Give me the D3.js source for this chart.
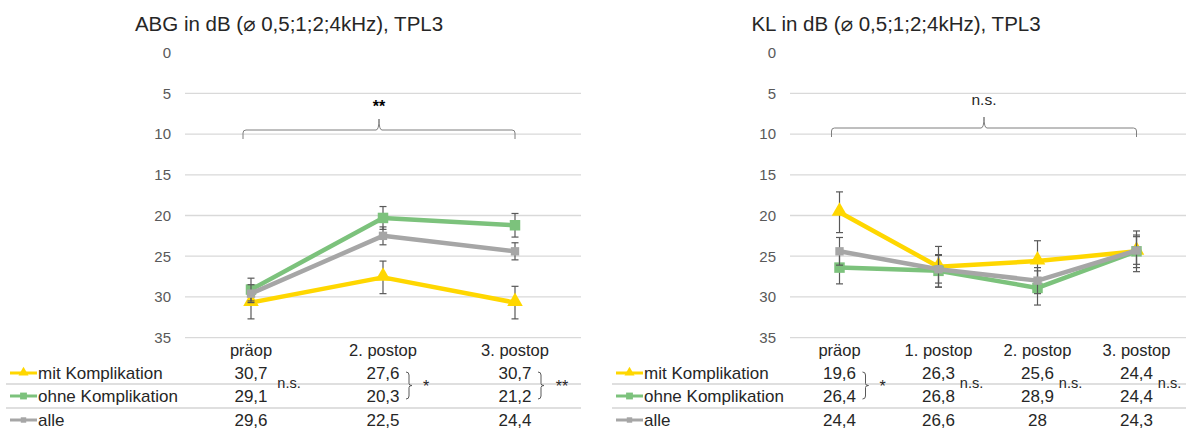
<!DOCTYPE html>
<html>
<head>
<meta charset="utf-8">
<script src="https://cdn.jsdelivr.net/npm/d3@7/dist/d3.min.js"></script>
<style>
  html, body { margin: 0; padding: 0; background: #fff; }
  svg { display: block; font-family: "Liberation Sans", Arial, "DejaVu Sans", sans-serif; }
</style>
</head>
<body>
<svg id="chart" width="1186" height="431"></svg>
<script>
// ---- data -------------------------------------------------------------
const yTicks = [0, 5, 10, 15, 20, 25, 30, 35];

const seriesNames = ["mit Komplikation", "ohne Komplikation", "alle"];

// Air-bone gap (ABG)
const abgCategories = ["präop", "2. postop", "3. postop"];
const abgMit  = [30.7, 27.6, 30.7];
const abgOhne = [29.1, 20.3, 21.2];
const abgAlle = [29.6, 22.5, 24.4];
const abgMitErr  = [2.0, 2.0, 2.0];
const abgOhneErr = [1.4, 1.4, 1.45];
const abgAlleErr = [1.1, 1.1, 1.05];
const abgTableSig = [
  { col: 0, kind: "text",  label: "n.s." },
  { col: 1, kind: "brace", label: "*" },
  { col: 2, kind: "brace", label: "**" }
];
const abgOverallSig = "**";

// Bone conduction (KL)
const klCategories = ["präop", "1. postop", "2. postop", "3. postop"];
const klMit  = [19.6, 26.3, 25.6, 24.4];
const klOhne = [26.4, 26.8, 28.9, 24.4];
const klAlle = [24.4, 26.6, 28, 24.3];
const klMitErr  = [2.5, 2.5, 2.5, 2.5];
const klOhneErr = [2.0, 2.0, 2.1, 2.0];
const klAlleErr = [1.7, 1.7, 1.6, 1.7];
const klTableSig = [
  { col: 0, kind: "brace", label: "*" },
  { col: 1, kind: "text",  label: "n.s." },
  { col: 2, kind: "text",  label: "n.s." },
  { col: 3, kind: "text",  label: "n.s." }
];
const klOverallSig = "n.s.";

// ---- styles -----------------------------------------------------------
const styles = [
  { color: "#FFD700", marker: "triangle" },
  { color: "#7CC27C", marker: "square" },
  { color: "#A6A6A6", marker: "squareSmall" }
];
const fmt = v => String(v).replace(".", ",");

const svg = d3.select("#chart");

function markerPath(type, small) {
  const s = small ? 0.65 : 1;
  if (type === "triangle") return d3.symbol().type(d3.symbolTriangle).size(105 * s * s)();
  if (type === "square") return d3.symbol().type(d3.symbolSquare).size(110 * s * s)();
  return d3.symbol().type(d3.symbolSquare).size(70 * s * s)();
}

function drawPanel(cfg) {
  const g = svg.append("g");
  const x = d3.scaleBand().domain(cfg.categories).range([cfg.left, cfg.right]);
  const y = d3.scaleLinear().domain([0, 35]).range([52.7, 337.6]);
  const cx = c => x(c) + x.bandwidth() / 2;

  // title
  g.append("text")
    .attr("x", cfg.titleX).attr("y", 31)
    .attr("text-anchor", "middle")
    .attr("font-size", 20.5).attr("fill", "#262626")
    .text(cfg.title);

  // gridlines (no line at 0)
  g.append("g").selectAll("line")
    .data(yTicks.filter(t => t > 0)).join("line")
    .attr("x1", cfg.left).attr("x2", cfg.right)
    .attr("y1", d => y(d)).attr("y2", d => y(d))
    .attr("stroke", "#D9D9D9").attr("stroke-width", 1.3);

  // y axis labels
  const yAxis = d3.axisLeft(y).tickValues(yTicks).tickSize(0).tickPadding(0);
  const ya = g.append("g").attr("transform", `translate(${cfg.left - 14},0)`).call(yAxis);
  ya.select(".domain").remove();
  ya.selectAll("text").attr("font-size", 15).attr("fill", "#595959")
    .attr("font-family", "Liberation Sans, Arial, sans-serif");

  // category labels
  const xAxis = d3.axisBottom(x).tickSize(0).tickPadding(0);
  const xa = g.append("g").attr("transform", `translate(0,${344})`).call(xAxis);
  xa.select(".domain").remove();
  xa.selectAll("text").attr("font-size", 16.5).attr("fill", "#262626")
    .attr("font-family", "Liberation Sans, Arial, sans-serif");

  // overall significance bracket above the plot
  const bx0 = cx(cfg.categories[0]) - 8, bx1 = cx(cfg.categories[cfg.categories.length - 1]);
  const bm = (bx0 + bx1) / 2;
  const by = cfg.bracketY, bt = by - 11, bb = by + 9;
  g.append("path")
    .attr("d", `M${bx0},${bb} L${bx0},${by + 3} Q${bx0},${by} ${bx0 + 3},${by} L${bm - 3},${by} Q${bm},${by} ${bm},${bt}` +
               ` Q${bm},${by} ${bm + 3},${by} L${bx1 - 3},${by} Q${bx1},${by} ${bx1},${by + 3} L${bx1},${bb}`)
    .attr("fill", "none").attr("stroke", "#7F7F7F").attr("stroke-width", 1);
  g.append("text")
    .attr("x", bm).attr("y", cfg.sigIsStars ? 112 : 105)
    .attr("text-anchor", "middle")
    .attr("font-size", cfg.sigIsStars ? 16 : 15.5)
    .attr("font-weight", cfg.sigIsStars ? "bold" : "normal")
    .attr("fill", cfg.sigIsStars ? "#000" : "#262626")
    .text(cfg.overallSig);

  // series: lines, error bars, markers
  const line = d3.line().x(d => cx(d.c)).y(d => y(d.v));
  cfg.series.forEach((s, i) => {
    const st = styles[i];
    const pts = cfg.categories.map((c, k) => ({ c, v: s.values[k], e: s.errors[k] }));
    const sg = g.append("g");
    sg.append("path").datum(pts)
      .attr("d", line).attr("fill", "none")
      .attr("stroke", st.color).attr("stroke-width", 4.5)
      .attr("stroke-linejoin", "round");
    // error bars
    const eb = sg.selectAll(".eb").data(pts).join("g");
    eb.append("line")
      .attr("x1", d => cx(d.c)).attr("x2", d => cx(d.c))
      .attr("y1", d => y(d.v - d.e)).attr("y2", d => y(d.v + d.e))
      .attr("stroke", "#595959").attr("stroke-width", 1.2);
    [-1, 1].forEach(sign => {
      eb.append("line")
        .attr("x1", d => cx(d.c) - 3.5).attr("x2", d => cx(d.c) + 3.5)
        .attr("y1", d => y(d.v + sign * d.e)).attr("y2", d => y(d.v + sign * d.e))
        .attr("stroke", "#595959").attr("stroke-width", 1.2);
    });
    sg.selectAll(".mk").data(pts).join("path")
      .attr("transform", d => `translate(${cx(d.c)},${y(d.v) + (st.marker === "triangle" ? -1 : 0)})`)
      .attr("d", markerPath(st.marker, false))
      .attr("fill", st.color);
  });

  // data table
  const rowY = [379, 402, 426];
  const sepY = [384, 408];
  sepY.forEach(yy => {
    g.append("line")
      .attr("x1", cfg.tableLeft).attr("x2", cfg.right)
      .attr("y1", yy).attr("y2", yy)
      .attr("stroke", "#BFBFBF").attr("stroke-width", 1);
  });
  cfg.series.forEach((s, i) => {
    const st = styles[i];
    const ky = rowY[i] - 6;
    const kx0 = cfg.tableLeft + 4, kx1 = kx0 + 27;
    g.append("line").attr("x1", kx0).attr("x2", kx1).attr("y1", ky).attr("y2", ky)
      .attr("stroke", st.color).attr("stroke-width", 3);
    g.append("path")
      .attr("transform", `translate(${(kx0 + kx1) / 2},${ky + (st.marker === "triangle" ? -0.5 : 0)})`)
      .attr("d", markerPath(st.marker, true)).attr("fill", st.color);
    g.append("text").attr("x", kx1 + 1).attr("y", rowY[i])
      .attr("font-size", 17).attr("fill", "#262626").text(seriesNames[i]);
    g.selectAll(null).data(s.values).join("text")
      .attr("x", (d, k) => cx(cfg.categories[k]))
      .attr("y", rowY[i])
      .attr("text-anchor", "middle")
      .attr("font-size", 17).attr("fill", "#262626")
      .text(d => fmt(d));
  });

  // row-pair significance marks in the table
  cfg.tableSig.forEach(sig => {
    const c = cx(cfg.categories[sig.col]);
    if (sig.kind === "text") {
      g.append("text").attr("x", c + cfg.nsOffset).attr("y", 388)
        .attr("text-anchor", "middle").attr("font-size", 14.5).attr("fill", "#262626")
        .text(sig.label);
    } else {
      const xb = c + 26, t = 372, b = 399, m = (t + b) / 2;
      g.append("path")
        .attr("d", `M${xb - 3},${t} Q${xb},${t} ${xb},${t + 3} L${xb},${m - 2} Q${xb},${m} ${xb + 3},${m}` +
                   ` Q${xb},${m} ${xb},${m + 2} L${xb},${b - 3} Q${xb},${b} ${xb - 3},${b}`)
        .attr("fill", "none").attr("stroke", "#595959").attr("stroke-width", 1);
      g.append("text").attr("x", xb + (sig.label.length > 1 ? 21 : 17)).attr("y", 392)
        .attr("text-anchor", "middle").attr("font-size", 16).attr("fill", "#262626")
        .text(sig.label);
    }
  });
}

drawPanel({
  title: "ABG in dB (\u2300 0,5;1;2;4kHz),  TPL3",
  titleX: 289,
  categories: abgCategories,
  series: [
    { values: abgMit,  errors: abgMitErr },
    { values: abgOhne, errors: abgOhneErr },
    { values: abgAlle, errors: abgAlleErr }
  ],
  left: 185, right: 581, tableLeft: 6,
  bracketY: 130, overallSig: abgOverallSig, sigIsStars: true,
  tableSig: abgTableSig, nsOffset: 38
});

drawPanel({
  title: "KL in dB (\u2300 0,5;1;2;4kHz),  TPL3",
  titleX: 896,
  categories: klCategories,
  series: [
    { values: klMit,  errors: klMitErr },
    { values: klOhne, errors: klOhneErr },
    { values: klAlle, errors: klAlleErr }
  ],
  left: 790, right: 1186, tableLeft: 612,
  bracketY: 128, overallSig: klOverallSig, sigIsStars: false,
  tableSig: klTableSig, nsOffset: 33
});
</script>
</body>
</html>
